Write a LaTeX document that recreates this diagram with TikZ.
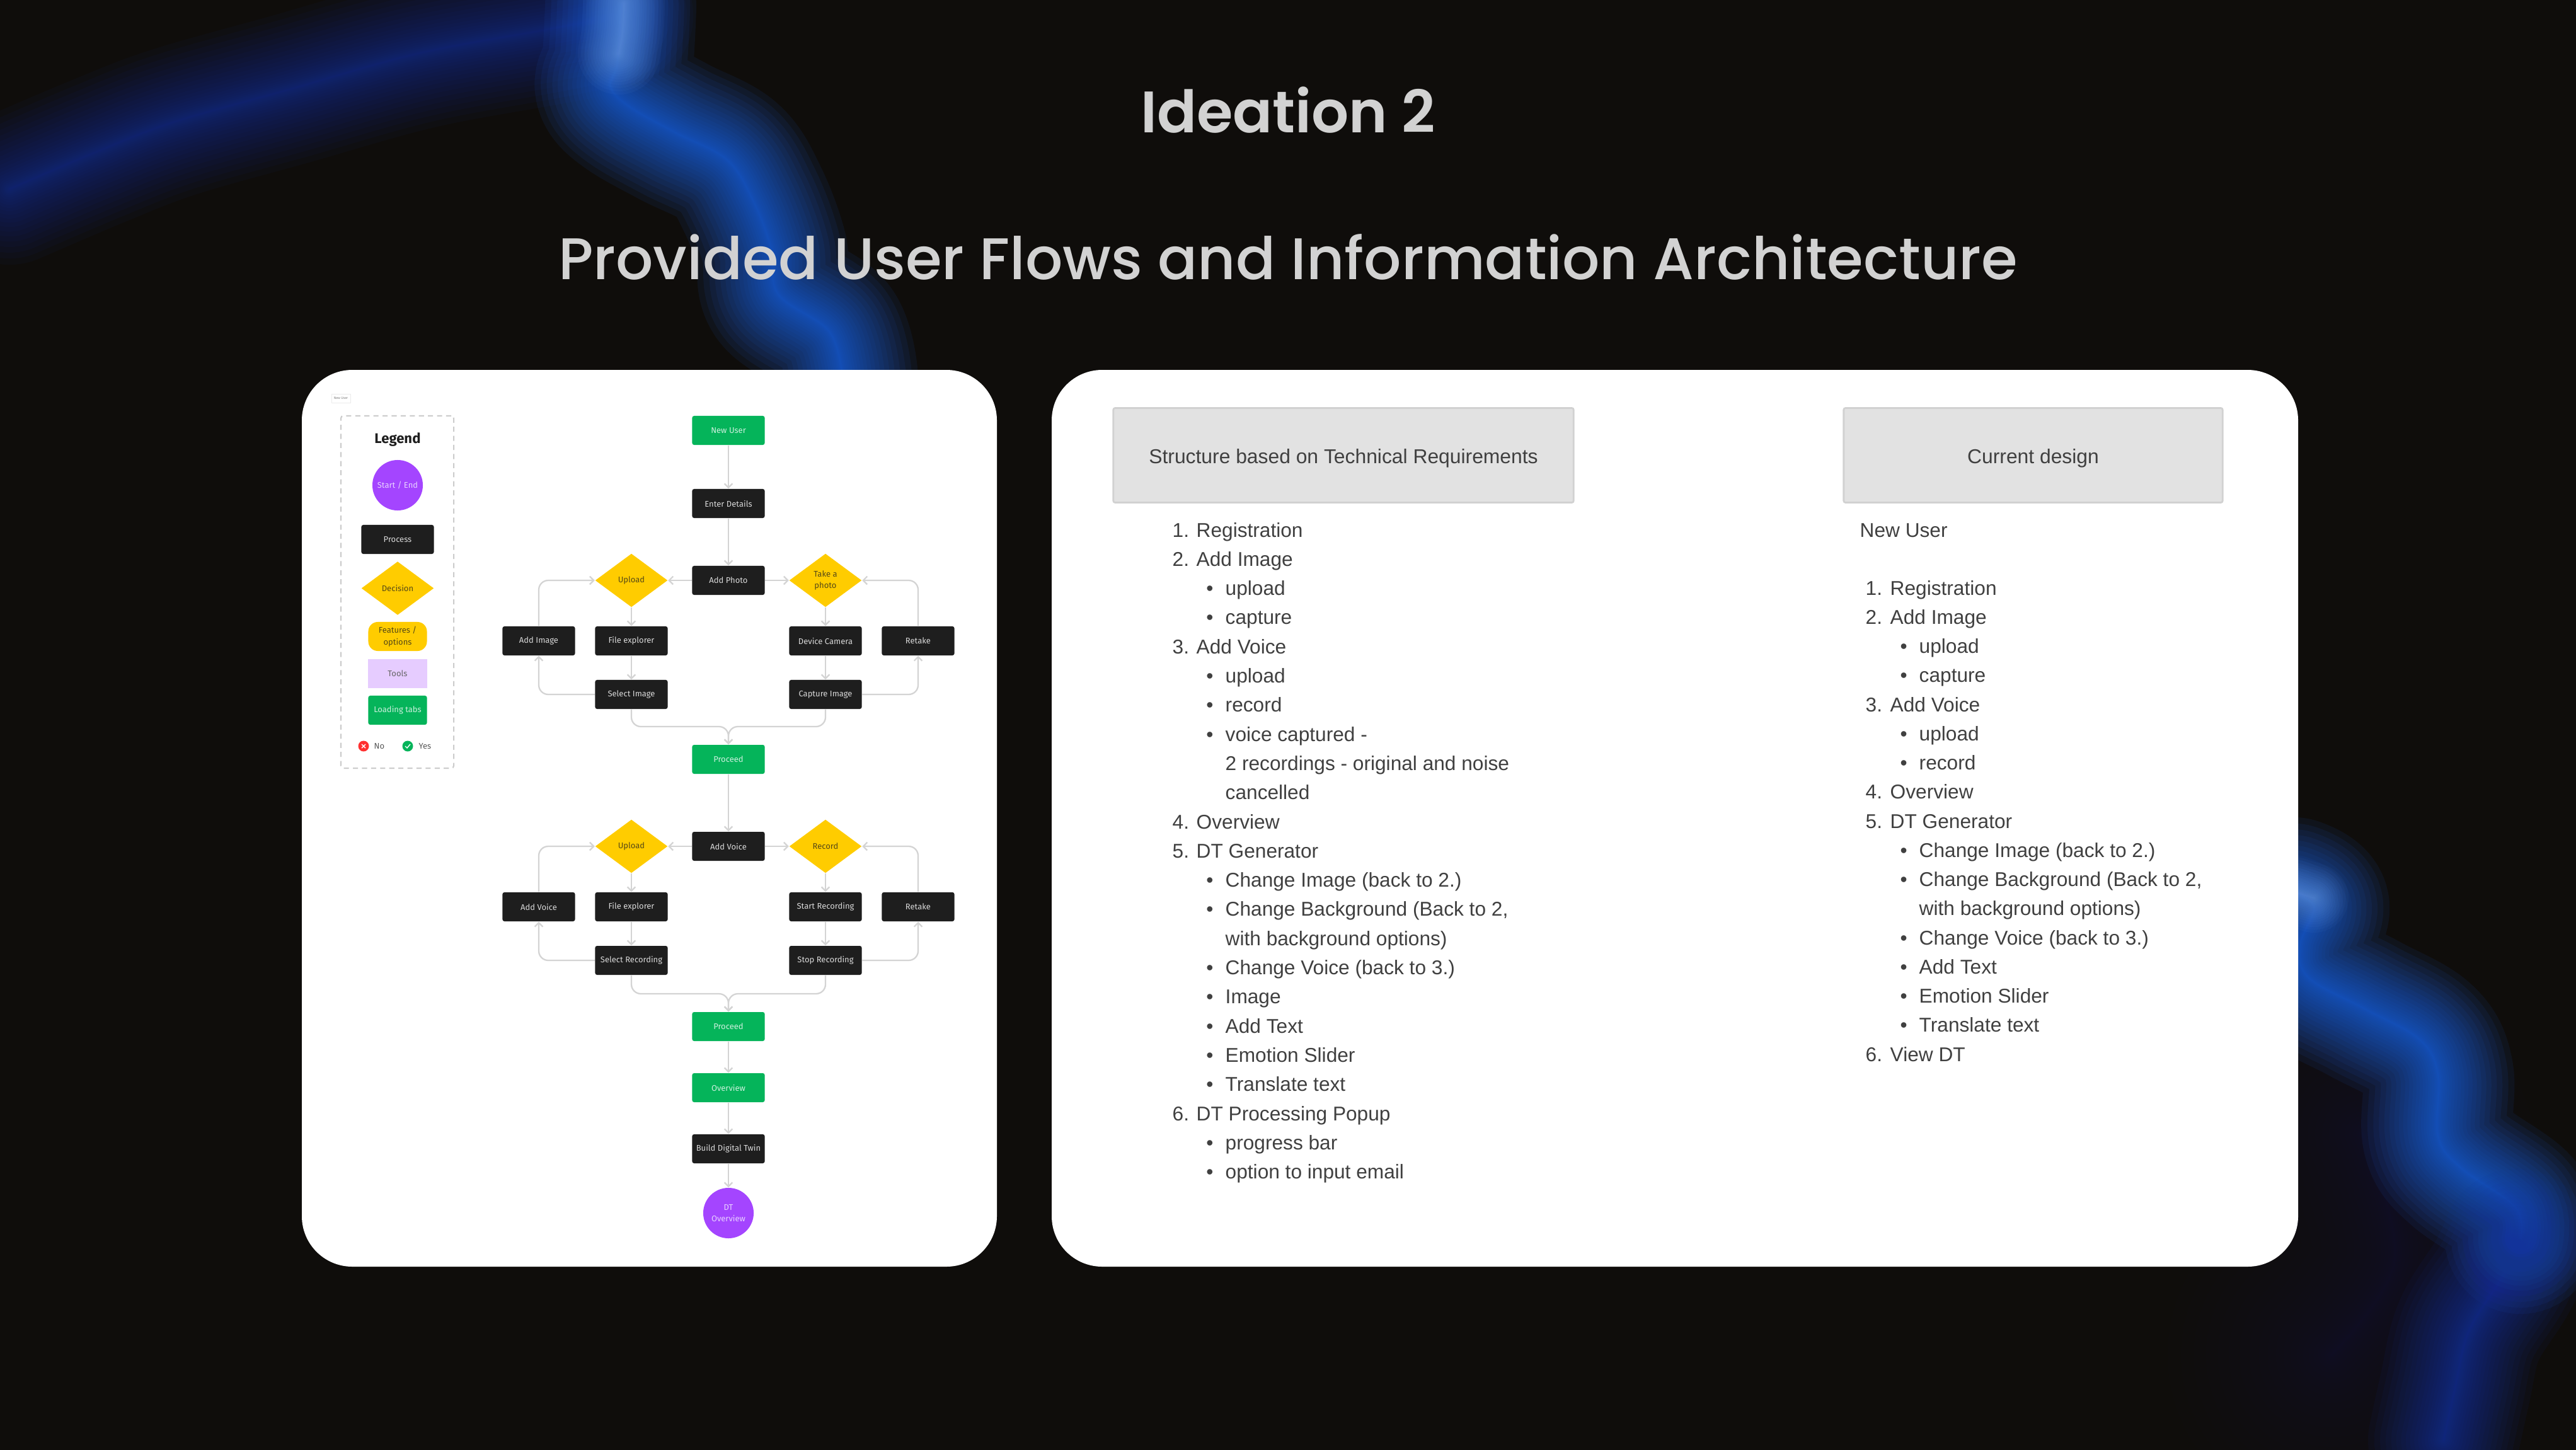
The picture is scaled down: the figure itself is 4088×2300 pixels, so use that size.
\documentclass[tikz,border=0pt]{standalone}
\usepackage{fontspec}
\usetikzlibrary{arrows.meta,shapes.geometric}
\setmainfont{Liberation Sans}
\newfontfamily\headfont{Poppins SemiBold}
\newfontfamily\subheadfont{Poppins Medium}
\newfontfamily\flowfont{Fira Sans}

\definecolor{pagebg}{HTML}{0F0D0B}
\definecolor{titlegray}{HTML}{D2D2D2}
\definecolor{flowgreen}{HTML}{05B45A}
\definecolor{flowyellow}{HTML}{FFCC00}
\definecolor{flowpurple}{HTML}{A445FF}
\definecolor{flowdark}{HTML}{1E1E1E}
\definecolor{flowlilac}{HTML}{E6CCFF}
\definecolor{linegray}{HTML}{D4D4D4}
\definecolor{boxgray}{HTML}{E2E2E2}
\definecolor{bodytext}{HTML}{404040}
\definecolor{deepblue}{HTML}{12339A}
\definecolor{midblue}{HTML}{1E5CD0}
\definecolor{brightblue}{HTML}{6A9AE0}
\definecolor{hazeblue}{HTML}{16224E}

\tikzset{
    flowbase/.style={rectangle, rounded corners=0.03cm, minimum width=1.15cm, minimum height=0.46cm,
        inner sep=0pt, align=center, font=\flowfont\fontsize{3.7}{5.2}\selectfont},
    process/.style={flowbase, fill=flowdark, text=white!85!black},
    loading/.style={flowbase, fill=flowgreen, text=white!80!flowgreen},
    decision/.style={diamond, aspect=1.35, minimum width=1.15cm, minimum height=0.85cm, inner sep=0pt,
        align=center, fill=flowyellow, text=flowdark!75!flowyellow, font=\flowfont\fontsize{3.7}{5.2}\selectfont},
    terminal/.style={circle, minimum size=0.8cm, inner sep=0pt, align=center, fill=flowpurple,
        text=white!75!flowpurple, font=\flowfont\fontsize{3.7}{5.2}\selectfont},
    flowline/.style={draw=linegray, line width=0.65pt, rounded corners=0.15cm,
        -{Straight Barb[length=1.8pt,width=3.6pt]}},
    listtext/.style={anchor=base west, inner sep=0pt, text=bodytext, font=\fontsize{9}{12}\selectfont},
    listbullet/.style={anchor=base, inner sep=0pt, text=bodytext, font=\fontsize{9}{12}\selectfont},
    headbox/.style={rectangle, rounded corners=0.03cm, fill=boxgray, draw=black!18, line width=0.8pt,
        minimum height=1.5cm, text=bodytext, font=\fontsize{9.05}{12}\selectfont},
    panel/.style={fill=white, rounded corners=0.8cm},
    glow/.style={line cap=round, line join=round},
}

\newcommand{\glowline}[4]{%
    \foreach \k in {1,...,24}{%
        \draw[glow, draw=#1, opacity=#3, line width={#2*0.2845*((25-\k)/24)^2}]
            plot[smooth, tension=0.6] coordinates {#4};
    }%
}

\begin{document}
\begin{tikzpicture}[x=0.01cm, y=-0.01cm]

    \useasboundingbox (0,0) rectangle (4088,2300);
    \fill[pagebg] (-10,-10) rectangle (4100,2310);

    % ==========================================
    % BACKGROUND: Blurred blue streaks
    % ==========================================
    \begin{scope}
        \clip (0,0) rectangle (4088,2300);

        % Faint haze
        \glowline{hazeblue}{500}{0.006}{(150,1100) (250,700) (500,900)}
        \glowline{hazeblue}{300}{0.008}{(2650,2150) (2800,2050) (2950,2100)}
        \glowline{hazeblue}{520}{0.025}{(3750,1800) (3800,2000) (3700,2150)}

        % Upper left arm
        \glowline{deepblue}{240}{0.055}{(15,300) (153,241) (275,194) (459,142) (663,85) (867,47) (980,25)}

        % Falling arm
        \glowline{midblue}{240}{0.09}{(985,10) (980,99) (969,138) (1000,170) (1071,210) (1153,253) (1194,316) (1224,395) (1235,467) (1316,526) (1337,600)}
        \glowline{brightblue}{130}{0.06}{(990,5) (988,50) (982,85)}

        % Right arm
        \glowline{midblue}{240}{0.09}{(3640,1417) (3672,1440) (3650,1500) (3663,1551) (3751,1600) (3839,1649) (3869,1705) (3869,1803) (3905,1853) (3992,1916) (4000,1965)}
        \glowline{deepblue}{240}{0.07}{(3995,1975) (3970,2028) (3918,2112) (3896,2203) (3878,2285)}
        \glowline{brightblue}{110}{0.05}{(3640,1415) (3672,1425)}
    \end{scope}

    % ==========================================
    % TITLES
    % ==========================================
    \node[anchor=base, inner sep=0pt, text=titlegray, font=\headfont\fontsize{26.4}{32}\selectfont]
        (maintitle) at (2044,210) {Ideation 2};
    \node[anchor=base, inner sep=0pt, text=titlegray, font=\subheadfont\fontsize{26.5}{30}\selectfont]
        (subtitle) at (2044,443) {Provided User Flows and Information Architecture};

    % ==========================================
    % PANELS
    % ==========================================
    \fill[panel] (479,587) rectangle (1582,2010);
    \fill[panel] (1669,587) rectangle (3647,2010);

    % ==========================================
    % LEFT PANEL: Legend
    % ==========================================
    \node[rectangle, draw=black!8, line width=0.2pt, minimum width=0.3cm, minimum height=0.14cm, inner sep=0pt,
        text=black!50, font=\flowfont\fontsize{1.5}{2}\selectfont] (usertag) at (541,632) {New User};

    \node[rectangle, rounded corners=0.04cm, draw=black!20, line width=0.6pt, dash pattern=on 2.3pt off 1.8pt,
        minimum width=1.79cm, minimum height=5.59cm] (legendbox) at (630.5,939.5) {};
    \node[text=flowdark, inner sep=0pt, font=\flowfont\bfseries\fontsize{6.3}{8}\selectfont] (legendtitle) at (631,698) {Legend};

    \node[terminal] (legendstart) at (631,770) {Start / End};
    \node[process] (legendprocess) at (631,856) {Process};
    \node[decision] (legenddecision) at (631,933.5) {Decision};
    \node[flowbase, rounded corners=0.15cm, minimum width=0.93cm, fill=flowyellow, text=flowdark!75!flowyellow]
        (legendoptions) at (631,1010) {Features /\\options};
    \node[flowbase, rounded corners=0pt, minimum width=0.93cm, fill=flowlilac, text=black!60] (legendtools) at (631,1069) {Tools};
    \node[loading, minimum width=0.93cm] (legendtabs) at (631,1127) {Loading tabs};

    % No and Yes marks
    \node[circle, fill=red!75!pink, minimum size=0.17cm, inner sep=0pt] (nomark) at (577,1184) {};
    \draw[white, line width=0.4pt] (574,1181) -- (580,1187) (580,1181) -- (574,1187);
    \node[anchor=west, inner sep=0pt, text=black!65, font=\flowfont\fontsize{3.7}{5}\selectfont] (nolabel) at (593,1184) {No};
    \node[circle, fill=flowgreen, minimum size=0.17cm, inner sep=0pt] (yesmark) at (647,1184) {};
    \draw[white, line width=0.4pt] (643,1184) -- (646,1187) -- (651,1181);
    \node[anchor=west, inner sep=0pt, text=black!65, font=\flowfont\fontsize{3.7}{5}\selectfont] (yeslabel) at (664,1184) {Yes};

    % ==========================================
    % LEFT PANEL: Photo flow
    % ==========================================
    \node[loading] (newuser) at (1156,683) {New User};
    \node[process] (enterdetails) at (1156,799) {Enter Details};
    \node[process] (addphoto) at (1156,921) {Add Photo};
    \node[decision] (uploadphoto) at (1002,921) {Upload};
    \node[decision] (takephoto) at (1310,921) {Take a\\photo};
    \node[process] (addimage) at (855,1017) {Add Image};
    \node[process] (explorerphoto) at (1002,1017) {File explorer};
    \node[process] (devicecamera) at (1310,1017) {Device Camera};
    \node[process] (retakephoto) at (1457,1017) {Retake};
    \node[process] (selectimage) at (1002,1102) {Select Image};
    \node[process] (captureimage) at (1310,1102) {Capture Image};
    \node[loading] (proceedphoto) at (1156,1205) {Proceed};
    \coordinate (joinphoto) at (1156,1153);

    \draw[flowline] (newuser) -- (enterdetails);
    \draw[flowline] (enterdetails) -- (addphoto);
    \draw[flowline] (addphoto) -- (uploadphoto);
    \draw[flowline] (addphoto) -- (takephoto);
    \draw[flowline] (uploadphoto) -- (explorerphoto);
    \draw[flowline] (explorerphoto) -- (selectimage);
    \draw[flowline] (selectimage.west) -| (addimage.south);
    \draw[flowline] (addimage.north) |- (uploadphoto.west);
    \draw[flowline] (takephoto) -- (devicecamera);
    \draw[flowline] (devicecamera) -- (captureimage);
    \draw[flowline] (captureimage.east) -| (retakephoto.south);
    \draw[flowline] (retakephoto.north) |- (takephoto.east);
    \draw[flowline] (selectimage.south) |- (joinphoto) -- (proceedphoto.north);
    \draw[flowline] (captureimage.south) |- (joinphoto) -- (proceedphoto.north);

    % ==========================================
    % LEFT PANEL: Voice flow
    % ==========================================
    \node[process] (addvoice) at (1156,1343) {Add Voice};
    \node[decision] (uploadvoice) at (1002,1343) {Upload};
    \node[decision] (recordvoice) at (1310,1343) {Record};
    \node[process] (voiceback) at (855,1439) {Add Voice};
    \node[process] (explorervoice) at (1002,1439) {File explorer};
    \node[process] (startrecording) at (1310,1439) {Start Recording};
    \node[process] (retakevoice) at (1457,1439) {Retake};
    \node[process] (selectrecording) at (1002,1524) {Select Recording};
    \node[process] (stoprecording) at (1310,1524) {Stop Recording};
    \node[loading] (proceedvoice) at (1156,1629) {Proceed};
    \node[loading] (overview) at (1156,1726) {Overview};
    \node[process] (buildtwin) at (1156,1823) {Build Digital Twin};
    \node[terminal] (dtoverview) at (1156,1925) {DT\\Overview};
    \coordinate (joinvoice) at (1156,1577);

    \draw[flowline] (proceedphoto) -- (addvoice);
    \draw[flowline] (addvoice) -- (uploadvoice);
    \draw[flowline] (addvoice) -- (recordvoice);
    \draw[flowline] (uploadvoice) -- (explorervoice);
    \draw[flowline] (explorervoice) -- (selectrecording);
    \draw[flowline] (selectrecording.west) -| (voiceback.south);
    \draw[flowline] (voiceback.north) |- (uploadvoice.west);
    \draw[flowline] (recordvoice) -- (startrecording);
    \draw[flowline] (startrecording) -- (stoprecording);
    \draw[flowline] (stoprecording.east) -| (retakevoice.south);
    \draw[flowline] (retakevoice.north) |- (recordvoice.east);
    \draw[flowline] (selectrecording.south) |- (joinvoice) -- (proceedvoice.north);
    \draw[flowline] (stoprecording.south) |- (joinvoice) -- (proceedvoice.north);
    \draw[flowline] (proceedvoice) -- (overview);
    \draw[flowline] (overview) -- (buildtwin);
    \draw[flowline] (buildtwin) -- (dtoverview);

    % ==========================================
    % RIGHT PANEL: Technical requirements list
    % ==========================================
    \node[headbox, minimum width=7.3cm] (reqhead) at (2132,722.5) {\raisebox{-3.7pt}[0pt][0pt]{Structure based on Technical Requirements}};

    \foreach \row/\num/\txt in {0/1/Registration, 1/2/Add Image, 4/3/Add Voice, 10/4/Overview, 11/5/DT Generator, 20/6/DT Processing Popup}{
        \node[listtext] (reqnum\row) at (1860,{852+46.3*\row}) {\num.};
        \node[listtext] (reqitem\row) at (1898,{852+46.3*\row}) {\txt};
    }
    \foreach \row/\txt in {2/upload, 3/capture, 5/upload, 6/record, 7/{voice captured -}, 12/{Change Image (back to 2.)},
        13/{Change Background (Back to 2,}, 15/{Change Voice (back to 3.)}, 16/Image, 17/Add Text, 18/Emotion Slider,
        19/Translate text, 21/progress bar, 22/option to input email}{
        \node[listbullet] (reqdot\row) at (1920,{852+46.3*\row}) {•};
        \node[listtext] (reqitem\row) at (1944,{852+46.3*\row}) {\txt};
    }
    \foreach \row/\txt in {8/{2 recordings - original and noise}, 9/cancelled, 14/{with background options)}}{
        \node[listtext] (reqitem\row) at (1944,{852+46.3*\row}) {\txt};
    }

    % ==========================================
    % RIGHT PANEL: Current design list
    % ==========================================
    \node[headbox, minimum width=6.01cm] (curhead) at (3226.5,722.5) {\raisebox{-3.7pt}[0pt][0pt]{Current design}};
    \node[listtext] (curuser) at (2951,852) {New User};

    \foreach \row/\num/\txt in {0/1/Registration, 1/2/Add Image, 4/3/Add Voice, 7/4/Overview, 8/5/DT Generator, 16/6/View DT}{
        \node[listtext] (curnum\row) at (2960,{944+46.25*\row}) {\num.};
        \node[listtext] (curitem\row) at (2999,{944+46.25*\row}) {\txt};
    }
    \foreach \row/\txt in {2/upload, 3/capture, 5/upload, 6/record, 9/{Change Image (back to 2.)},
        10/{Change Background (Back to 2,}, 12/{Change Voice (back to 3.)}, 13/Add Text, 14/Emotion Slider, 15/Translate text}{
        \node[listbullet] (curdot\row) at (3021,{944+46.25*\row}) {•};
        \node[listtext] (curitem\row) at (3045,{944+46.25*\row}) {\txt};
    }
    \node[listtext] (curitem11) at (3045,{944+46.25*11}) {with background options)};

\end{tikzpicture}
\end{document}
